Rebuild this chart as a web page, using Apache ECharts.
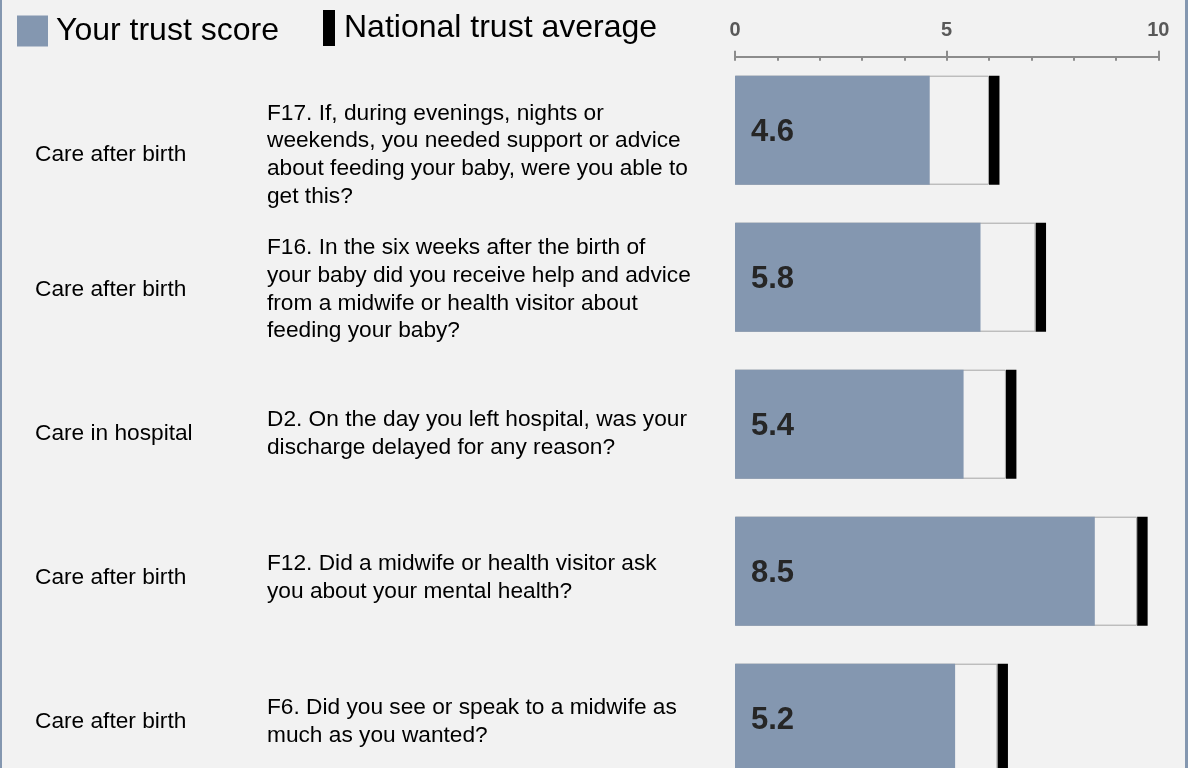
<!DOCTYPE html>
<html>
<head>
<meta charset="utf-8">
<script src="https://cdn.jsdelivr.net/npm/echarts@6/dist/echarts.min.js"></script>
<style>
  html, body { margin: 0; padding: 0; background: #f2f2f2; }
  #main { width: 1188px; height: 768px; }
</style>
</head>
<body>
<div id="main"></div>
<script>
const groups = ['Care after birth', 'Care after birth', 'Care in hospital', 'Care after birth', 'Care after birth'];
const questions = [
    'F17. If, during evenings, nights or\nweekends, you needed support or advice\nabout feeding your baby, were you able to\nget this?',
    'F16. In the six weeks after the birth of\nyour baby did you receive help and advice\nfrom a midwife or health visitor about\nfeeding your baby?',
    'D2. On the day you left hospital, was your\ndischarge delayed for any reason?',
    'F12. Did a midwife or health visitor ask\nyou about your mental health?',
    'F6. Did you see or speak to a midwife as\nmuch as you wanted?'
];
const trustScore = [4.6, 5.8, 5.4, 8.5, 5.2];
const nationalAvg = [6.0, 7.1, 6.4, 9.5, 6.2];

const FONT = "'Liberation Sans', Arial, sans-serif";
const BAR_H = 109;

// first row text sits a bit lower in the original, push it down with a spacer line
const labelFmt = function (value, idx) {
    const body = value.split('\n').map(function (l) { return '{t|' + l + '}'; }).join('\n');
    return idx === 0 ? '{sp| }\n' + body : body;
};
const labelRich = {
    t: { fontSize: 22.7, lineHeight: 27.7, color: '#000', fontFamily: FONT },
    sp: { fontSize: 1, lineHeight: 19 }
};

const chart = echarts.init(document.getElementById('main'));
const option = {
    backgroundColor: '#f2f2f2',
    animation: false,
    textStyle: { fontFamily: FONT },
    legend: [{
        data: ['Your trust score'],
        left: 17, top: 15, padding: 0,
        itemWidth: 31, itemHeight: 31,
        icon: 'rect',
        selectedMode: false,
        textStyle: { fontSize: 32, color: '#000', padding: [0, 0, 0, 3] }
    }, {
        data: ['National trust average'],
        left: 323, top: 10, padding: 0,
        itemWidth: 12, itemHeight: 36,
        icon: 'rect',
        selectedMode: false,
        textStyle: { fontSize: 32, color: '#000', padding: [0, 0, 0, 4] }
    }],
    grid: [{
        left: 735, width: 423.3, top: 56.7, height: 735,
        outerBoundsMode: 'none'
    }, {
        left: 735, width: 423.3, top: 73.5, height: 720,
        outerBoundsMode: 'none'
    }],
    xAxis: [{
        gridIndex: 0,
        type: 'value', position: 'top',
        min: 0, max: 10, interval: 1,
        axisLine: { show: true, lineStyle: { color: '#8c8c8c', width: 2 } },
        axisTick: { show: true, inside: true, length: 4, lineStyle: { color: '#8c8c8c', width: 2 } },
        axisLabel: { show: false },
        splitLine: { show: false }
    }, {
        gridIndex: 0,
        type: 'value', position: 'top',
        min: 0, max: 10, interval: 5,
        axisLine: { show: false },
        axisTick: { show: true, inside: false, length: 6, lineStyle: { color: '#8c8c8c', width: 2 } },
        axisLabel: { show: true, margin: 16, fontSize: 20, fontWeight: 'bold', color: '#595959' },
        splitLine: { show: false }
    }, {
        gridIndex: 1, type: 'value', show: false
    }],
    yAxis: [{
        gridIndex: 0, type: 'category', inverse: true, position: 'left',
        data: questions,
        axisLine: { show: false }, axisTick: { show: false }, axisLabel: { show: false }
    }, {
        gridIndex: 1, type: 'category', inverse: true, position: 'left',
        data: questions,
        axisLine: { show: false }, axisTick: { show: false },
        axisLabel: { align: 'left', margin: 468, interval: 0, formatter: labelFmt, rich: labelRich }
    }, {
        gridIndex: 1, type: 'category', inverse: true, position: 'left',
        data: groups,
        axisLine: { show: false }, axisTick: { show: false },
        axisLabel: { align: 'left', margin: 700, interval: 0, formatter: labelFmt, rich: labelRich }
    }],
    series: [{
        name: 'avgBox',
        type: 'bar',
        silent: true,
        barWidth: BAR_H,
        barGap: '-100%',
        data: nationalAvg,
        itemStyle: { color: '#f2f2f2', borderColor: '#a6a6a6', borderWidth: 1 }
    }, {
        name: 'Your trust score',
        type: 'bar',
        barWidth: BAR_H,
        barGap: '-100%',
        data: trustScore,
        itemStyle: { color: '#8497b0' },
        label: {
            show: true,
            position: 'insideLeft',
            distance: 16,
            offset: [0, 2],
            fontSize: 31,
            fontWeight: 'bold',
            color: '#262626',
            formatter: function (p) { return p.value.toFixed(1); }
        }
    }, {
        name: 'National trust average',
        type: 'custom',
        itemStyle: { color: '#000' },
        data: nationalAvg.map(function (v, i) { return [v, i]; }),
        encode: { x: 0, y: 1 },
        renderItem: function (params, api) {
            const p = api.coord([api.value(0), api.value(1)]);
            return {
                type: 'rect',
                shape: { x: p[0], y: p[1] - BAR_H / 2, width: 10.5, height: BAR_H },
                style: { fill: '#000' }
            };
        }
    }],
    graphic: [
        { type: 'rect', left: 0, top: 0, shape: { width: 2, height: 768 }, style: { fill: '#8497b0' } },
        { type: 'rect', left: 1185, top: 0, shape: { width: 3, height: 768 }, style: { fill: '#8497b0' } }
    ]
};
chart.setOption(option);
</script>
</body>
</html>
